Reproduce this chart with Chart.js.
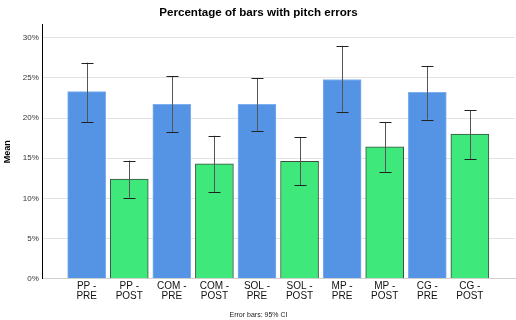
<!DOCTYPE html>
<html>
<head>
<meta charset="utf-8">
<script src="https://cdn.jsdelivr.net/npm/chart.js@4"></script>
<style>
  html, body { margin: 0; padding: 0; background: #fff; }
  #wrap { width: 516px; height: 320px; }
</style>
</head>
<body>
<div id="wrap"><canvas id="chart" width="516" height="320"></canvas></div>
<script>
const categories = ["PP - PRE", "PP - POST", "COM - PRE", "COM - POST", "SOL - PRE",
  "SOL - POST", "MP - PRE", "MP - POST", "CG - PRE", "CG - POST"];
const means = [23.3, 12.4, 21.7, 14.3, 21.7, 14.6, 24.8, 16.4, 23.2, 18.0];
const ciLow = [19.5, 10.1, 18.2, 10.8, 18.4, 11.6, 20.8, 13.3, 19.8, 14.9];
const ciHigh = [26.9, 14.7, 25.2, 17.8, 25.0, 17.6, 29.0, 19.5, 26.5, 21.0];
const yTicks = [0, 5, 10, 15, 20, 25, 30];

const FONT = "'Liberation Sans', Arial, Helvetica, sans-serif";

const barColors = categories.map((c) => (c.endsWith("PRE") ? "#5594e5" : "#3fe87b"));
const barBorders = categories.map((c) => (c.endsWith("PRE") ? "#7eaef0" : "#3d4d40"));

const errorBars = {
  id: "errorBars",
  afterDatasetsDraw(chart) {
    const { ctx, scales } = chart;
    ctx.save();
    ctx.lineWidth = 1;
    means.forEach((m, i) => {
      const x = Math.round(scales.x.getPixelForValue(i)) + 0.5;
      const yl = scales.y.getPixelForValue(ciLow[i]);
      const yh = scales.y.getPixelForValue(ciHigh[i]);
      ctx.strokeStyle = "#555";
      ctx.beginPath();
      ctx.moveTo(x, yh);
      ctx.lineTo(x, yl);
      ctx.stroke();
      ctx.strokeStyle = "#222";
      ctx.beginPath();
      ctx.moveTo(x - 6, Math.round(yh) + 0.5);
      ctx.lineTo(x + 6, Math.round(yh) + 0.5);
      ctx.moveTo(x - 6, Math.round(yl) + 0.5);
      ctx.lineTo(x + 6, Math.round(yl) + 0.5);
      ctx.stroke();
    });
    ctx.restore();
  },
};

new Chart(document.getElementById("chart"), {
  type: "bar",
  data: {
    datasets: [
      {
        data: means.map((m, i) => ({ x: i, y: m })),
        backgroundColor: barColors,
        borderColor: barBorders,
        borderWidth: 1,
        barThickness: 38,
      },
    ],
  },
  plugins: [errorBars],
  options: {
    responsive: false,
    animation: false,
    layout: { padding: { left: 2, right: 1, top: 0, bottom: 0 } },
    plugins: {
      legend: { display: false },
      tooltip: { enabled: false },
      title: {
        display: true,
        text: "Percentage of bars with pitch errors",
        color: "#000",
        font: { family: FONT, size: 11.6, weight: "bold" },
        padding: { top: 6, bottom: 5 },
      },
      subtitle: {
        display: true,
        position: "bottom",
        text: "Error bars: 95% CI",
        color: "#222",
        font: { family: FONT, size: 7 },
        padding: { top: 6, bottom: 1 },
      },
    },
    scales: {
      x: {
        type: "linear",
        offset: false,
        min: -1.03,
        max: 10.06,
        afterBuildTicks(axis) {
          axis.ticks = categories.map((c, i) => ({ value: i }));
        },
        ticks: {
          autoSkip: false,
          maxRotation: 0,
          color: "#111",
          font: { family: FONT, size: 10, lineHeight: 1.0 },
          padding: 3,
          callback: (v) => {
            const c = categories[v];
            if (!c) return "";
            const p = c.split(" - ");
            return [p[0] + " -", p[1]];
          },
        },
        grid: { display: false, drawTicks: false, offset: false },
        border: { color: "#d0d0d0", width: 1 },
      },
      y: {
        min: 0,
        max: 31.6,
        afterBuildTicks(axis) {
          axis.ticks = yTicks.map((v) => ({ value: v }));
        },
        ticks: {
          color: "#333",
          font: { family: FONT, size: 8 },
          padding: 4,
          callback: (v) => v + "%",
        },
        grid: { color: "#e3e3e3", drawTicks: false },
        border: { color: "#000", width: 1 },
        title: {
          display: true,
          text: "Mean",
          color: "#000",
          font: { family: FONT, size: 9, weight: "bold" },
          padding: { top: 0, bottom: 6 },
        },
      },
    },
  },
});
</script>
</body>
</html>
